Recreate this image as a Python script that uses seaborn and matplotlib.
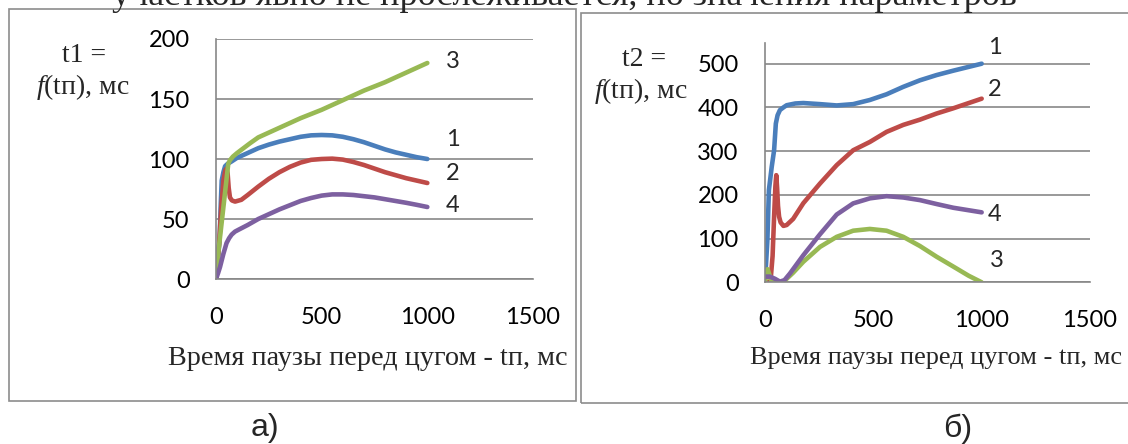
import numpy as np
import pandas as pd
import seaborn as sns
import matplotlib.pyplot as plt
from matplotlib.patches import Rectangle

W, H = 1128, 444

# --- panel a): t1 = f(tп) (ms) ---
a_x1 = [0, 10, 17, 22, 27, 35, 43, 55, 74, 100, 150, 200, 250, 300, 350, 400, 450, 500, 550,
        600, 650, 700, 750, 800, 850, 900, 950, 1000]
a_y1 = [0, 18, 33, 60, 82, 89, 94, 96, 98, 101, 105, 109, 112, 114.5, 116.5, 118.5, 119.7, 120, 119.7,
        118.5, 116.5, 114, 111, 108, 105.5, 103.5, 101.5, 100]
a_x2 = [0, 15, 25, 35, 45, 50, 55, 60, 66, 75, 90, 120, 150, 200, 250, 300, 350, 400, 450, 500,
        550, 600, 650, 700, 750, 800, 850, 900, 950, 1000]
a_y2 = [0, 30, 60, 82, 91, 92, 88, 76, 68, 65.5, 64.5, 66, 70, 77, 83.5, 89, 93.5, 97, 99.3, 100,
        100.3, 99.5, 97.5, 95, 92, 89, 86.5, 84, 82, 80]
a_x3 = [0, 58, 66, 80, 100, 130, 160, 200, 300, 400, 500, 600, 700, 800, 900, 1000]
a_y3 = [5, 96, 99, 102, 105, 109, 113, 118, 126, 134, 141, 149, 157, 164, 172, 180]
a_x4 = [0, 10, 19, 35, 50, 62, 74, 90, 106, 150, 200, 250, 300, 350, 400, 450, 500, 550, 600,
        650, 700, 750, 800, 850, 900, 950, 1000]
a_y4 = [0, 5, 10, 21, 30, 34, 37, 39.5, 41, 45, 50, 54, 58, 61.5, 65, 67.5, 69.5, 70.5, 70.5,
        70, 69, 68, 66.5, 65, 63.5, 61.8, 60]

# --- panel б): t2 = f(tп) ---
b_x1 = [0, 11, 18, 31, 42, 50, 58, 69, 85, 100, 140, 177, 254, 331, 407, 484, 561, 638, 715,
        792, 869, 1000]
b_y1 = [0, 97, 211, 264, 302, 363, 382, 394, 400, 405, 409, 410, 407.5, 404.5, 407.5, 417, 430, 447, 462,
        474, 484, 500]
b_x2 = [0, 25, 35, 42, 48, 52, 56, 60, 65, 72, 85, 100, 130, 177, 254, 331, 407, 484, 561, 638,
        715, 792, 869, 1000]
b_y2 = [0, 0, 60, 150, 220, 245, 215, 175, 150, 137, 129, 131, 145, 181, 226, 268, 302, 321, 344, 360,
        372, 386, 398, 420]
b_x3 = [0, 6, 12, 20, 30, 50, 85, 130, 177, 254, 331, 407, 484, 561, 638, 715, 792, 869, 940, 1000]
b_y3 = [0, 20, 30, 18, 3, 0, 1, 22, 47, 81, 104, 118, 122, 118, 104, 83, 58.5, 36, 15, 0]
b_x4 = [0, 23, 46, 69, 90, 115, 177, 254, 331, 407, 484, 561, 638, 715, 792, 869, 1000]
b_y4 = [13, 13, 8, 1.5, 5, 20, 62, 110, 155, 180.5, 192, 197, 194, 188, 179, 170.5, 160]

curve_names = ["1", "2", "3", "4"]
colors = {"1": "#4a7ebb", "2": "#be4b48", "3": "#98b954", "4": "#7d60a0"}
x_ticks = [0, 500, 1000, 1500]
a_y_ticks = [0, 50, 100, 150, 200]
b_y_ticks = [0, 100, 200, 300, 400, 500]


def make_frame(xs, ys):
    parts = []
    for name, x, y in zip(curve_names, xs, ys):
        parts.append(pd.DataFrame({"tp": x, "t": y, "curve": name}))
    return pd.concat(parts, ignore_index=True)


df_a = make_frame([a_x1, a_x2, a_x3, a_x4], [a_y1, a_y2, a_y3, a_y4])
df_b = make_frame([b_x1, b_x2, b_x3, b_x4], [b_y1, b_y2, b_y3, b_y4])

sns.set_style("white")
plt.rcParams["mathtext.fontset"] = "custom"
plt.rcParams["mathtext.it"] = "Liberation Serif:italic"
plt.rcParams["mathtext.rm"] = "Liberation Serif"

GRID = "#878787"
tick_font = dict(family="Lato", size=17)
serif = "Liberation Serif"
serif_size = 20


def fx(px):
    return px / W


def fy(py):
    return 1 - py / H


def style_axes(ax, yticks, ylim):
    ax.set_xlim(0, 1500)
    ax.set_ylim(*ylim)
    ax.set_xticks(x_ticks)
    ax.set_yticks(yticks)
    ax.set_xticklabels([str(v) for v in x_ticks], fontdict=tick_font)
    ax.set_yticklabels([str(v) for v in yticks], fontdict=tick_font)
    ax.yaxis.grid(True, color=GRID, lw=1.2)
    ax.xaxis.grid(False)
    for s in ["top", "right"]:
        ax.spines[s].set_visible(False)
    for s in ["left", "bottom"]:
        ax.spines[s].set_color(GRID)
        ax.spines[s].set_linewidth(1.2)
    ax.tick_params(axis="both", direction="out", length=8, width=1.2, color=GRID,
                   labelcolor="black")
    ax.tick_params(axis="y", pad=11)
    ax.tick_params(axis="x", pad=12)
    ax.set_xlabel("")
    ax.set_ylabel("")
    ax.set_facecolor("none")


fig = plt.figure(figsize=(W / 100, H / 100), dpi=100)

# frames around the two pictures
fig.patches.append(Rectangle((fx(9), fy(401)), fx(576 - 9), (401 - 9.3) / H,
                             transform=fig.transFigure, fill=False, ec="#8c8c8c", lw=1.2))
fig.patches.append(Rectangle((fx(581), fy(402.7)), fx(1140 - 581), (402.7 - 12.7) / H,
                             transform=fig.transFigure, fill=False, ec="#8c8c8c", lw=1.2))

ax_a = fig.add_axes([fx(216), fy(279), fx(533 - 216), (279 - 39) / H])
ax_b = fig.add_axes([fx(765), fy(282.3), fx(1090 - 765), (282.3 - 42.7) / H])

for ax, df in [(ax_a, df_a), (ax_b, df_b)]:
    sns.lineplot(data=df, x="tp", y="t", hue="curve", hue_order=curve_names,
                 palette=colors, sort=False, estimator=None, lw=3.3,
                 legend=False, ax=ax, solid_capstyle="round", solid_joinstyle="round")

style_axes(ax_a, a_y_ticks, (0, 200))
style_axes(ax_b, b_y_ticks, (0, 548))

# curve numbers next to line ends
for name, (tx, ty) in zip(["3", "1", "2", "4"], [(1121, 181), (1121, 116), (1121, 88), (1121, 61)]):
    ax_a.text(tx, ty, name, ha="center", va="center", clip_on=False, **tick_font)
for name, (tx, ty) in zip(["1", "2", "4", "3"], [(1061, 538), (1061, 441), (1061, 154), (1068, 49)]):
    ax_b.text(tx, ty, name, ha="center", va="center", clip_on=False, **tick_font)

# axis titles
fig.text(fx(84), fy(55), "t1 =", ha="center", va="center", family=serif, size=serif_size)
fig.text(fx(83), fy(87), r"$\mathit{f}$(tп), мс", ha="center", va="center", family=serif, size=serif_size)
fig.text(fx(644), fy(60), "t2 =", ha="center", va="center", family=serif, size=serif_size)
fig.text(fx(641), fy(91), r"$\mathit{f}$(tп), мс", ha="center", va="center", family=serif, size=serif_size)

xlab = "Время паузы перед цугом - tп, мс"
fig.text(fx(368), fy(358), xlab, ha="center", va="center", family=serif, size=20.3)
fig.text(fx(750), fy(358), xlab, ha="left", va="center", family=serif, size=18.9)

fig.text(fx(265), fy(436), "а)", ha="center", va="baseline", family="Liberation Sans", size=23)
fig.text(fx(958), fy(437), "б)", ha="center", va="baseline", family="Liberation Sans", size=23)

# line of body text above the figure, cut by the picture's top edge
fig.text(0.5, fy(5), "участков явно не прослеживается, но значения параметров",
         ha="center", va="baseline", family=serif, size=26)

fig.savefig("out.png", dpi=100)
